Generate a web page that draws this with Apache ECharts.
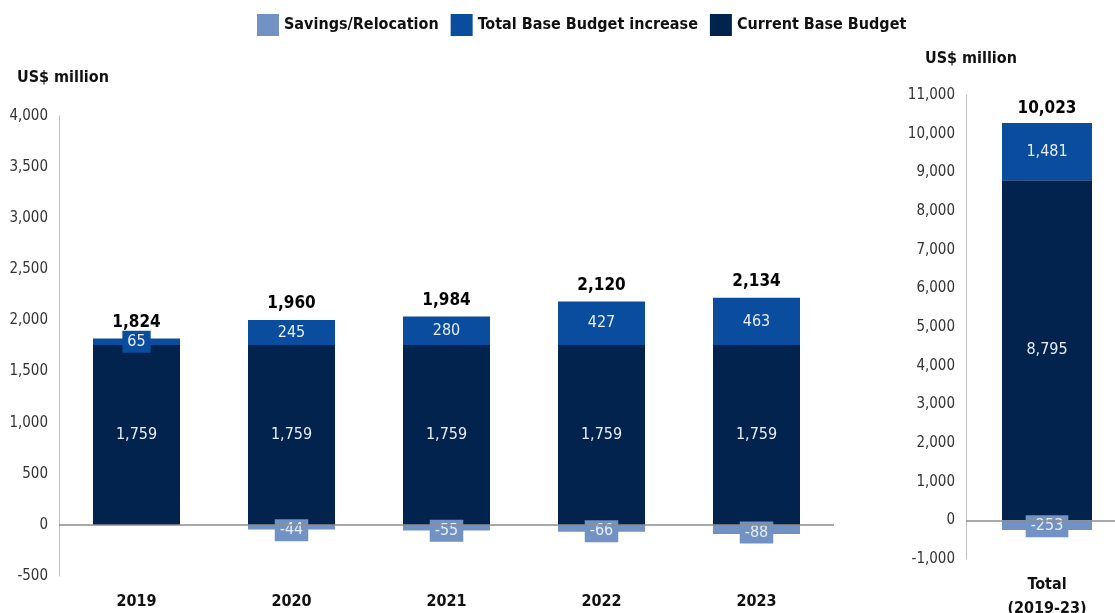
<!DOCTYPE html>
<html>
<head>
<meta charset="utf-8">
<script src="https://cdn.jsdelivr.net/npm/echarts@6/dist/echarts.min.js"></script>
<style>
html,body{margin:0;padding:0;background:#fff;}
#c{width:1115px;height:613px;}
</style>
</head>
<body>
<div id="c"></div>
<script>
// ---- data ----
const categories = ['2019', '2020', '2021', '2022', '2023'];
const currentBase = [1759, 1759, 1759, 1759, 1759];
const baseIncrease = [65, 245, 280, 427, 463];
const savings = [null, -44, -55, -66, -88];

const totalCategory = ['Total\n(2019-23)'];
const totalCurrentBase = [8795];
const totalBaseIncrease = [1481];
const totalSavings = [-253];

const leftTicks = { min: -500, max: 4000, interval: 500 };
const rightTicks = { min: -1000, max: 11000, interval: 1000 };

// ---- helpers ----
const FONT = "'Liberation Sans Narrow', 'DejaVu Sans Condensed', 'Noto Sans', sans-serif";
const C_SAV = '#7192c2';
const C_INC = '#0a4c9e';
const C_CUR = '#02234d';
const fmt = v => Math.round(v).toLocaleString('en-US');
const netTotals = (b, i, s) => b.map((v, k) => v + i[k] + (s[k] || 0));
const stackTops = (b, i) => b.map((v, k) => v + i[k]);

const leftNet = netTotals(currentBase, baseIncrease, savings);
const rightNet = netTotals(totalCurrentBase, totalBaseIncrease, totalSavings);

const inLabel = (bg, offset) => ({
  show: true, position: 'inside', color: '#e6edf7', fontFamily: FONT, fontSize: 16,
  backgroundColor: bg, padding: [3, 5], offset: offset || [0, 0],
  formatter: p => (p.value == null ? '' : fmt(p.value))
});

function barSeries(idx, cur, inc, sav, width, savOffset) {
  return [
    { name: 'Current Base Budget', type: 'bar', stack: 's' + idx, xAxisIndex: idx, yAxisIndex: idx,
      data: cur, barWidth: width, itemStyle: { color: C_CUR }, label: inLabel('transparent') },
    { name: 'Total Base Budget increase', type: 'bar', stack: 's' + idx, xAxisIndex: idx, yAxisIndex: idx,
      data: inc, barWidth: width, itemStyle: { color: C_INC }, label: inLabel(C_INC) },
    { name: 'Savings/Relocation', type: 'bar', stack: 's' + idx, xAxisIndex: idx, yAxisIndex: idx,
      data: sav, barWidth: width, itemStyle: { color: C_SAV }, label: inLabel(C_SAV, savOffset),
      markLine: { silent: true, symbol: 'none', label: { show: false },
        lineStyle: { color: '#8c8c8c', width: 1.5, type: 'solid' }, data: [{ yAxis: 0 }] } }
  ];
}

function topLabels(idx, tops, nets, dist) {
  return { type: 'scatter', xAxisIndex: idx, yAxisIndex: idx, data: tops, symbolSize: 1,
    itemStyle: { color: 'rgba(0,0,0,0)', opacity: 1 }, silent: true, z: 10,
    label: { show: true, position: 'top', distance: dist, color: '#000', fontWeight: 'bold',
      fontFamily: FONT, fontSize: 17, formatter: p => fmt(nets[p.dataIndex]) } };
}

const axisLabelY = { color: '#333', fontFamily: FONT, fontSize: 15, margin: 11, formatter: v => fmt(v) };
const axisLabelX = { color: '#111', fontFamily: FONT, fontSize: 16, fontWeight: 'bold', lineHeight: 24 };

const option = {
  animation: false,
  textStyle: { fontFamily: FONT },
  legend: {
    top: 9, left: 252, icon: 'rect', itemWidth: 22, itemHeight: 22, itemGap: 12,
    data: ['Savings/Relocation', 'Total Base Budget increase', 'Current Base Budget'],
    textStyle: { fontFamily: FONT, fontSize: 16, fontWeight: 'bold', color: '#111' }
  },
  title: [
    { text: 'US$ million', left: 12, top: 65, textStyle: { fontFamily: FONT, fontSize: 16, fontWeight: 'bold', color: '#111' } },
    { text: 'US$ million', left: 920, top: 46, textStyle: { fontFamily: FONT, fontSize: 16, fontWeight: 'bold', color: '#111' } }
  ],
  grid: [
    { left: 59, width: 775, top: 116, height: 460, containLabel: false, outerBoundsMode: 'none' },
    { left: 966, width: 162, top: 95, height: 464, containLabel: false, outerBoundsMode: 'none' }
  ],
  xAxis: [
    { type: 'category', gridIndex: 0, data: categories, axisLine: { show: false, onZero: false },
      axisTick: { show: false }, axisLabel: Object.assign({ margin: 14 }, axisLabelX) },
    { type: 'category', gridIndex: 1, data: totalCategory, axisLine: { show: false, onZero: false },
      axisTick: { show: false }, axisLabel: Object.assign({ margin: 14 }, axisLabelX) }
  ],
  yAxis: [
    Object.assign({ type: 'value', gridIndex: 0, splitLine: { show: false },
      axisLine: { show: true, lineStyle: { color: '#bfbfbf' } }, axisTick: { show: false },
      axisLabel: axisLabelY }, leftTicks),
    Object.assign({ type: 'value', gridIndex: 1, splitLine: { show: false },
      axisLine: { show: true, lineStyle: { color: '#bfbfbf' } }, axisTick: { show: false },
      axisLabel: axisLabelY }, rightTicks)
  ],
  series: [
    ...barSeries(0, currentBase, baseIncrease, savings, 87, [0, 3]),
    topLabels(0, stackTops(currentBase, baseIncrease), leftNet, 7),
    ...barSeries(1, totalCurrentBase, totalBaseIncrease, totalSavings, 90, [0, 1]),
    topLabels(1, stackTops(totalCurrentBase, totalBaseIncrease), rightNet, 5)
  ]
};

const chart = echarts.init(document.getElementById('c'));
chart.setOption(option);
</script>
</body>
</html>
